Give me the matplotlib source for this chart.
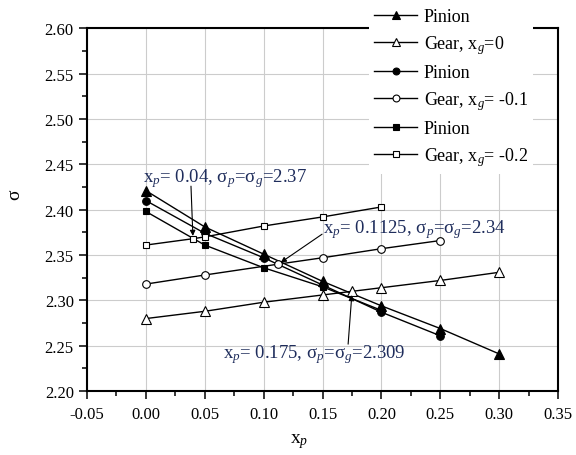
import matplotlib
matplotlib.use("Agg")
import matplotlib.pyplot as plt
from matplotlib.ticker import MultipleLocator

plt.rcParams['font.family'] = ['Liberation Serif', 'DejaVu Serif']
plt.rcParams['mathtext.fontset'] = 'custom'
plt.rcParams['mathtext.rm'] = 'Liberation Serif'
plt.rcParams['mathtext.it'] = 'Liberation Serif:italic'

# data
x_pin_0 = [0.00, 0.05, 0.10, 0.15, 0.20, 0.25, 0.30]
pin_0 = [2.421, 2.381, 2.351, 2.321, 2.294, 2.269, 2.241]
x_gear_0 = [0.00, 0.05, 0.10, 0.15, 0.175, 0.20, 0.25, 0.30]
gear_0 = [2.280, 2.288, 2.298, 2.306, 2.310, 2.314, 2.322, 2.331]

x_pin_1 = [0.00, 0.05, 0.10, 0.15, 0.20, 0.25]
pin_1 = [2.410, 2.374, 2.347, 2.317, 2.287, 2.261]
x_gear_1 = [0.00, 0.05, 0.1125, 0.15, 0.20, 0.25]
gear_1 = [2.318, 2.328, 2.340, 2.347, 2.357, 2.366]

x_pin_2 = [0.00, 0.05, 0.10, 0.15, 0.20]
pin_2 = [2.398, 2.361, 2.336, 2.315, 2.289]
x_gear_2 = [0.00, 0.04, 0.05, 0.10, 0.15, 0.20]
gear_2 = [2.361, 2.368, 2.370, 2.382, 2.392, 2.403]

labels = ['Pinion', 'Gear, x$_g$=0', 'Pinion', 'Gear, x$_g$= -0.1',
          'Pinion', 'Gear, x$_g$= -0.2']

fig = plt.figure(figsize=(5.76, 4.56), dpi=100)
ax = fig.add_axes([0.151, 0.140, 0.818, 0.796])

series = [
    (x_pin_0, pin_0, '^', 'black', 6.5),
    (x_gear_0, gear_0, '^', 'white', 6.5),
    (x_pin_1, pin_1, 'o', 'black', 5.5),
    (x_gear_1, gear_1, 'o', 'white', 5.5),
    (x_pin_2, pin_2, 's', 'black', 5),
    (x_gear_2, gear_2, 's', 'white', 5),
]
handles = []
for (xs, ys, m, fc, ms), lab in zip(series, labels):
    h, = ax.plot(xs, ys, color='black', lw=1.0, marker=m, ms=ms,
                 mfc=fc, mec='black', mew=0.8, label=lab, zorder=3)
    handles.append(h)

ax.set_xlim(-0.05, 0.35)
ax.set_ylim(2.20, 2.60)
ax.xaxis.set_major_locator(MultipleLocator(0.05))
ax.xaxis.set_minor_locator(MultipleLocator(0.025))
ax.yaxis.set_major_locator(MultipleLocator(0.05))
ax.yaxis.set_minor_locator(MultipleLocator(0.025))
ax.xaxis.set_major_formatter(plt.FormatStrFormatter('%.2f'))
ax.yaxis.set_major_formatter(plt.FormatStrFormatter('%.2f'))
ax.grid(True, which='major', color='#cccccc', lw=0.8, zorder=0)
ax.set_axisbelow(True)
ax.tick_params(which='major', direction='out', length=5.5, width=1.1,
               labelsize=12, colors='black', top=False, right=False, pad=4)
ax.tick_params(axis='x', which='major', pad=5.5)
ax.tick_params(which='minor', direction='out', length=3.5, width=1.1,
               top=False, right=False)
for s in ax.spines.values():
    s.set_linewidth(1.5)

ax.set_xlabel('x$_p$', fontsize=14)
ax.set_ylabel('σ', fontsize=14)
ax.xaxis.set_label_coords(0.450, -0.110)
ax.yaxis.set_label_coords(-0.136, 0.543)

txt_color = '#1f2d5c'
ann_fs = 13.5
ax.text(-0.0024, 2.4358, 'x$_p$= 0.04, σ$_p$=σ$_g$=2.37', fontsize=ann_fs,
        color=txt_color, ha='left', va='center', zorder=4)
ax.text(0.1504, 2.3796, 'x$_p$= 0.1125, σ$_p$=σ$_g$=2.34', fontsize=ann_fs,
        color=txt_color, ha='left', va='center', zorder=4)
ax.text(0.0655, 2.2419, 'x$_p$= 0.175, σ$_p$=σ$_g$=2.309', fontsize=ann_fs,
        color=txt_color, ha='left', va='center', zorder=4)

arrow = dict(arrowstyle='-|>', color='black', lw=0.8, mutation_scale=8,
             shrinkA=0, shrinkB=2)
ax.annotate('', xy=(0.040, 2.368), xytext=(0.0383, 2.4259), arrowprops=arrow, zorder=4)
ax.annotate('', xy=(0.1125, 2.340), xytext=(0.1496, 2.373), arrowprops=arrow, zorder=4)
ax.annotate('', xy=(0.175, 2.309), xytext=(0.1717, 2.2518), arrowprops=arrow, zorder=4)

fig.legend(handles, labels, loc='upper left', bbox_to_anchor=(0.640, 0.992),
           bbox_transform=fig.transFigure, fontsize=13, frameon=True,
           facecolor='white', edgecolor='none', framealpha=1, fancybox=False,
           borderaxespad=0, borderpad=0.3, handlelength=2.4,
           handletextpad=0.35, labelspacing=0.45, markerscale=0.9)

fig.savefig('out.png', dpi=100)
